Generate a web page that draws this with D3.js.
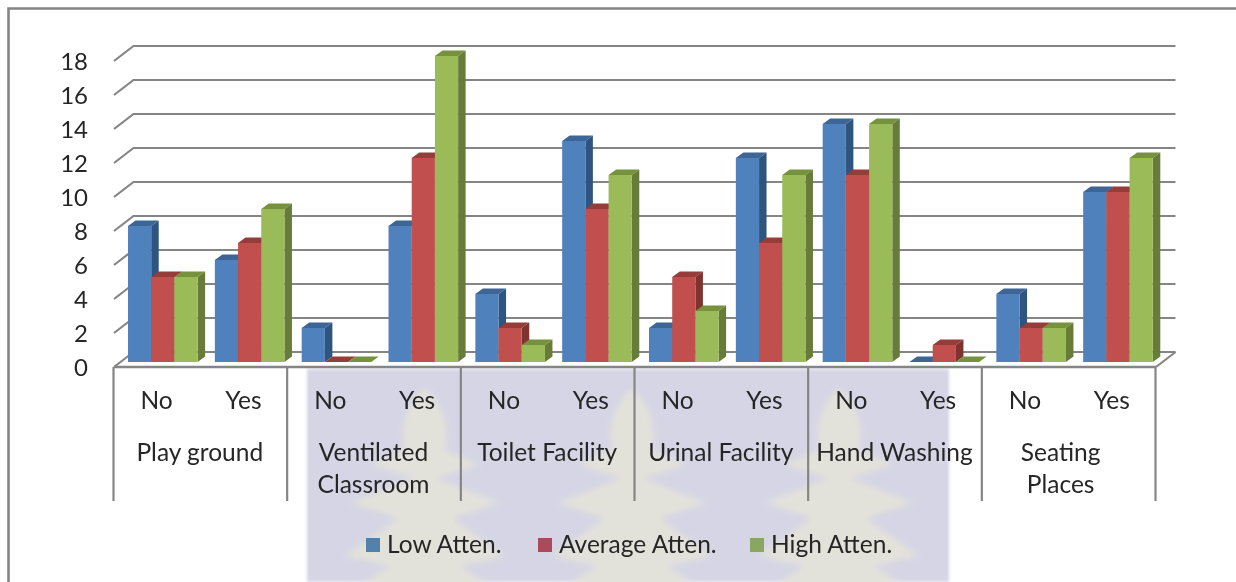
<!DOCTYPE html>
<html><head><meta charset="utf-8">
<script src="https://cdn.jsdelivr.net/npm/d3@7"></script>
<style>html,body{margin:0;padding:0;background:#fff;overflow:hidden}svg{display:block}text{font-family:Lato,"Open Sans",sans-serif;fill:#262626}</style>
</head><body><svg id="c" width="1236" height="582"></svg>
<script>
const groups = [["Play ground"],["Ventilated","Classroom"],["Toilet Facility"],["Urinal Facility"],["Hand Washing"],["Seating","Places"]];
const answers = ["No","Yes"];
const seriesNames = ["Low Atten.","Average Atten.","High Atten."];
const lowAtten = [8,6,2,8,4,13,2,12,14,0,4,10];
const averageAtten = [5,7,0,12,2,9,5,7,11,1,2,10];
const highAtten = [5,9,0,18,1,11,3,11,14,0,2,12];
const yTicks = [0,2,4,6,8,10,12,14,16,18];

const seriesValues = [lowAtten, averageAtten, highAtten];
const palette = [
  {front:"#4f81bd",top:"#3c6596",side:"#2f5580",key:"#5181ad"},
  {front:"#c0504d",top:"#953c39",side:"#7f302d",key:"#ad4a5a"},
  {front:"#9bbb59",top:"#76923c",side:"#667c38",key:"#8aa65f"}];

const svg = d3.select("#c");
const defs = svg.append("defs");
defs.append("filter").attr("id","soft").attr("x","-5%").attr("y","-5%").attr("width","110%").attr("height","110%")
  .append("feGaussianBlur").attr("stdDeviation",0.6);
defs.append("filter").attr("id","wm").attr("x","-5%").attr("y","-5%").attr("width","110%").attr("height","110%")
  .append("feGaussianBlur").attr("stdDeviation",1.6);
defs.append("filter").attr("id","wl").attr("x","-20%").attr("y","-20%").attr("width","140%").attr("height","140%")
  .append("feGaussianBlur").attr("stdDeviation",3);

// watermark behind the chart's lower part
const wm = svg.append("g");
wm.append("rect").attr("x",307).attr("y",369).attr("width",642).attr("height",213).attr("fill","#d5d5e5").attr("filter","url(#wm)");
defs.append("clipPath").attr("id","wc").append("rect").attr("x",307).attr("y",369).attr("width",642).attr("height",213);
const right = [[20,62],[55,77],[10,90],[75,115],[27,130],[80,168],[35,178],[92,215]];
const leaf = "M0,0C14,12 22,30 22,50" + right.map(p=>`L${p[0]},${p[1]}`).join("")
  + right.slice().reverse().map(p=>`L${-p[0]},${p[1]}`).join("") + "L-22,50C-22,30 -14,12 0,0Z";
const wmG = wm.append("g").attr("clip-path","url(#wc)");
[425,632,839].forEach(cx=>wmG.append("path").attr("d",leaf).attr("transform",`translate(${cx},388)`).attr("fill","#e3e2da").attr("filter","url(#wl)"));

const g = svg.append("g").attr("filter","url(#soft)");

// outer frame
g.append("path").attr("d","M8.5,582V8.5H1236").attr("fill","none").attr("stroke","#858585").attr("stroke-width",2.6);

// scales
const frontLeft = 114, frontRight = 1156, depthX = 19.5, depthY = 15;
const y = d3.scaleLinear().domain([0,18]).range([367,61]);
const x = d3.scaleBand().domain(d3.range(lowAtten.length)).range([frontLeft,frontRight]);
const xGroup = d3.scaleBand().domain(d3.range(groups.length)).range([frontLeft,frontRight]);
const barW = 23.2, barDx = 7.5, barDy = 5.5, barShiftX = 5.4, barLift = 5;
const xSeries = d3.scaleBand().domain(d3.range(seriesNames.length)).range([0,barW*3]);

// gridlines on the back and left walls
const gridC = "#858585";
yTicks.forEach(t=>{
  const yy=y(t);
  g.append("path").attr("d",`M${frontLeft},${yy}L${frontLeft+depthX},${yy-depthY}L${frontRight+depthX},${yy-depthY}`)
   .attr("fill","none").attr("stroke",gridC).attr("stroke-width",2.2);
});
g.append("path").attr("d",`M${frontRight},${y(0)}L${frontRight+depthX},${y(0)-depthY}`).attr("stroke",gridC).attr("stroke-width",2.2).attr("fill","none");

// tick labels
yTicks.forEach(t=>g.append("text").attr("x",88).attr("y",y(t)+8.5).attr("text-anchor","end").style("font-size","24px").text(t));

// bars
lowAtten.forEach((_,i)=>{
  seriesValues.forEach((vals,s)=>{
    const v=vals[i], left=x(i)+(x.step()-barW*3)/2+barShiftX+xSeries(s), rightX=left+barW;
    const base=y(0)-barLift, top=y(v)-barLift, c=palette[s];
    g.append("path").attr("fill",c.top).attr("d",`M${left},${top}L${left+barDx},${top-barDy}L${rightX+barDx},${top-barDy}L${rightX},${top}Z`);
    if(v>0){
      g.append("path").attr("fill",c.side).attr("d",`M${rightX},${top}L${rightX+barDx},${top-barDy}L${rightX+barDx},${base-barDy}L${rightX},${base}Z`);
      g.append("rect").attr("x",left).attr("y",top).attr("width",barW).attr("height",base-top).attr("fill",c.front);
    }
  });
});

// category axis
g.append("line").attr("x1",frontLeft).attr("x2",frontRight).attr("y1",y(0)).attr("y2",y(0)).attr("stroke",gridC).attr("stroke-width",2.4);
d3.range(groups.length+1).forEach(k=>{
  const xx = k<groups.length ? xGroup(k) : frontRight;
  g.append("line").attr("x1",xx-0.5).attr("x2",xx-0.5).attr("y1",y(0)).attr("y2",501).attr("stroke",gridC).attr("stroke-width",2.2);
});
lowAtten.forEach((_,i)=>{
  g.append("text").attr("x",x(i)+x.bandwidth()/2-0.8).attr("y",409).attr("text-anchor","middle").style("font-size","24.5px").text(answers[i%2]);
});
groups.forEach((lines,k)=>{
  const cx=xGroup(k)+xGroup.bandwidth()/2 - (k===5?8.5:1);
  lines.forEach((line,j)=>g.append("text").attr("x",cx).attr("y",461+j*32).attr("text-anchor","middle").style("font-size","24.5px").text(line));
});

// legend
const legendX=[366,538,750];
seriesNames.forEach((n,s)=>{
  g.append("rect").attr("x",legendX[s]).attr("y",538).attr("width",14).attr("height",14).attr("fill",palette[s].key);
  g.append("text").attr("x",legendX[s]+21).attr("y",553).style("font-size","24.5px").text(n);
});
</script></body></html>
